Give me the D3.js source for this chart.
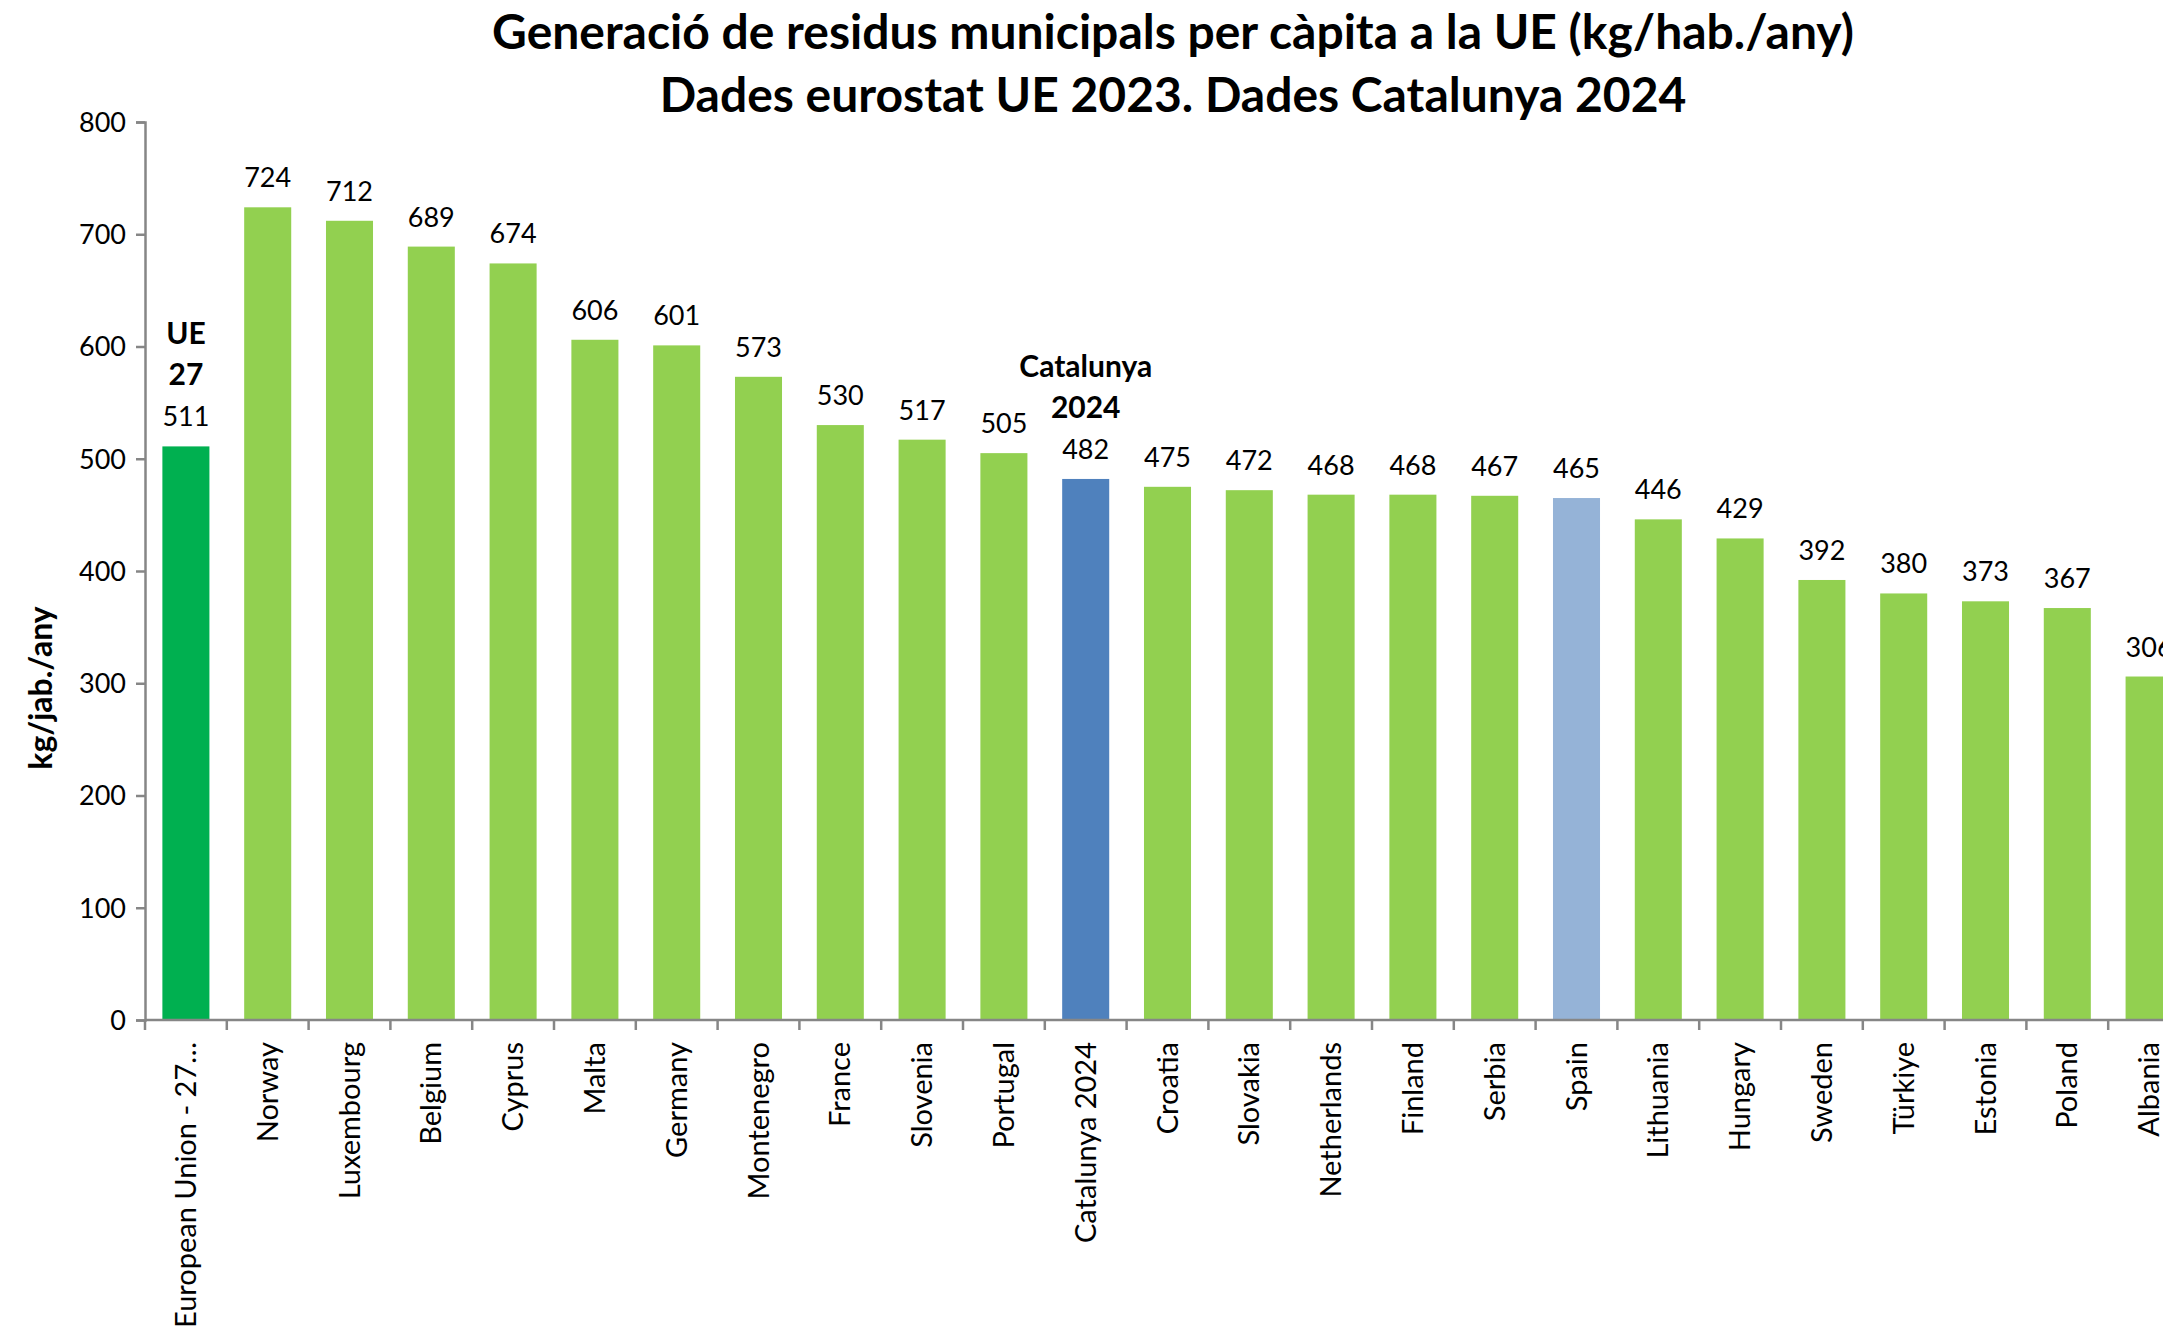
<!DOCTYPE html>
<html lang="ca">
<head>
<meta charset="utf-8">
<title>Generació de residus municipals</title>
<script src="https://cdn.jsdelivr.net/npm/d3@7"></script>
<style>
  body { margin: 0; background: #fff; }
  text { font-family: Lato, "Open Sans", sans-serif; fill: #000; }
</style>
</head>
<body>
<script>
var countries = ["European Union - 27…", "Norway", "Luxembourg", "Belgium", "Cyprus", "Malta",
  "Germany", "Montenegro", "France", "Slovenia", "Portugal", "Catalunya 2024", "Croatia",
  "Slovakia", "Netherlands", "Finland", "Serbia", "Spain", "Lithuania", "Hungary", "Sweden",
  "Türkiye", "Estonia", "Poland", "Albania"];
var values = [511, 724, 712, 689, 674, 606, 601, 573, 530, 517, 505, 482, 475, 472, 468,
  468, 467, 465, 446, 429, 392, 380, 373, 367, 306];
var highlight = { "European Union - 27…": "#00B050", "Catalunya 2024": "#4F81BD", "Spain": "#95B3D7" };
var notes = [["European Union - 27…", ["UE", "27"]], ["Catalunya 2024", ["Catalunya", "2024"]]];
var yTicks = [0, 100, 200, 300, 400, 500, 600, 700, 800];
var title = ["Generació de residus municipals per càpita a la UE (kg/hab./any)",
  "Dades eurostat UE 2023. Dades Catalunya 2024"];
var yLabel = "kg/jab./any";

var width = 2163, height = 1329;
var marginLeft = 145, plotBottom = 1020, plotTop = 122;
var step = 81.8;
var axisColor = "#868686";

var svg = d3.select("body").append("svg")
  .attr("width", width)
  .attr("height", height);

var x = d3.scaleBand()
  .domain(countries)
  .range([marginLeft, marginLeft + step * countries.length])
  .paddingInner(0.425)
  .paddingOuter(0.2125);

var y = d3.scaleLinear()
  .domain([0, 800])
  .range([plotBottom, plotTop]);

// bars
svg.selectAll("rect.bar").data(countries).enter()
  .append("rect")
  .attr("class", "bar")
  .attr("x", function(d) { return x(d); })
  .attr("y", function(d, i) { return y(values[i]); })
  .attr("width", x.bandwidth())
  .attr("height", function(d, i) { return plotBottom - y(values[i]); })
  .style("fill", function(d) { return highlight[d] || "#92D050"; });

// value labels
svg.selectAll("text.val").data(countries).enter()
  .append("text")
  .attr("class", "val")
  .attr("x", function(d) { return x(d) + x.bandwidth() / 2; })
  .attr("y", function(d, i) { return y(values[i]) - 20; })
  .attr("text-anchor", "middle")
  .style("font-size", "27px")
  .text(function(d, i) { return values[i]; });

// bold notes over EU and Catalunya
notes.forEach(function(n) {
  var i = countries.indexOf(n[0]);
  n[1].forEach(function(line, k) {
    svg.append("text")
      .attr("x", x(n[0]) + x.bandwidth() / 2)
      .attr("y", y(values[i]) - 20 - 41 * (n[1].length - k))
      .attr("text-anchor", "middle")
      .style("font-size", "30px")
      .style("font-weight", "bold")
      .text(line);
  });
});

// y axis
var yAxis = svg.append("g")
  .attr("transform", "translate(" + marginLeft + ",0)")
  .call(d3.axisLeft(y).tickValues(yTicks).tickSize(9).tickPadding(10));
yAxis.selectAll("text").style("font-size", "27px").attr("dy", "0.35em");

// x axis: line, boundary ticks, rotated labels
var xAxis = svg.append("g")
  .attr("transform", "translate(0," + plotBottom + ")")
  .call(d3.axisBottom(x).tickSize(0).tickPadding(0));
xAxis.select(".domain").remove();
xAxis.selectAll("text")
  .attr("transform", "rotate(-90)")
  .attr("x", -22)
  .attr("y", 0)
  .attr("dy", "0.35em")
  .attr("text-anchor", "end")
  .style("font-size", "29px");

svg.append("line")
  .attr("x1", marginLeft).attr("x2", width)
  .attr("y1", plotBottom).attr("y2", plotBottom);
svg.selectAll("line.xtick").data(countries).enter()
  .append("line")
  .attr("class", "xtick")
  .attr("x1", function(d) { return x(d) - (x.step() - x.bandwidth()) / 2; })
  .attr("x2", function(d) { return x(d) - (x.step() - x.bandwidth()) / 2; })
  .attr("y1", plotBottom).attr("y2", plotBottom + 10);

svg.selectAll("line, path.domain")
  .style("stroke", axisColor)
  .style("stroke-width", 2.5);

// y label
svg.append("text")
  .attr("transform", "translate(52,688) rotate(-90)")
  .attr("text-anchor", "middle")
  .style("font-size", "32px")
  .style("font-weight", "bold")
  .text(yLabel);

// title
svg.selectAll("text.title").data(title).enter()
  .append("text")
  .attr("class", "title")
  .attr("x", 1173)
  .attr("y", function(d, i) { return 49 + i * 63; })
  .attr("text-anchor", "middle")
  .style("font-size", "48px")
  .style("font-weight", "bold")
  .text(function(d) { return d; });
</script>
</body>
</html>
